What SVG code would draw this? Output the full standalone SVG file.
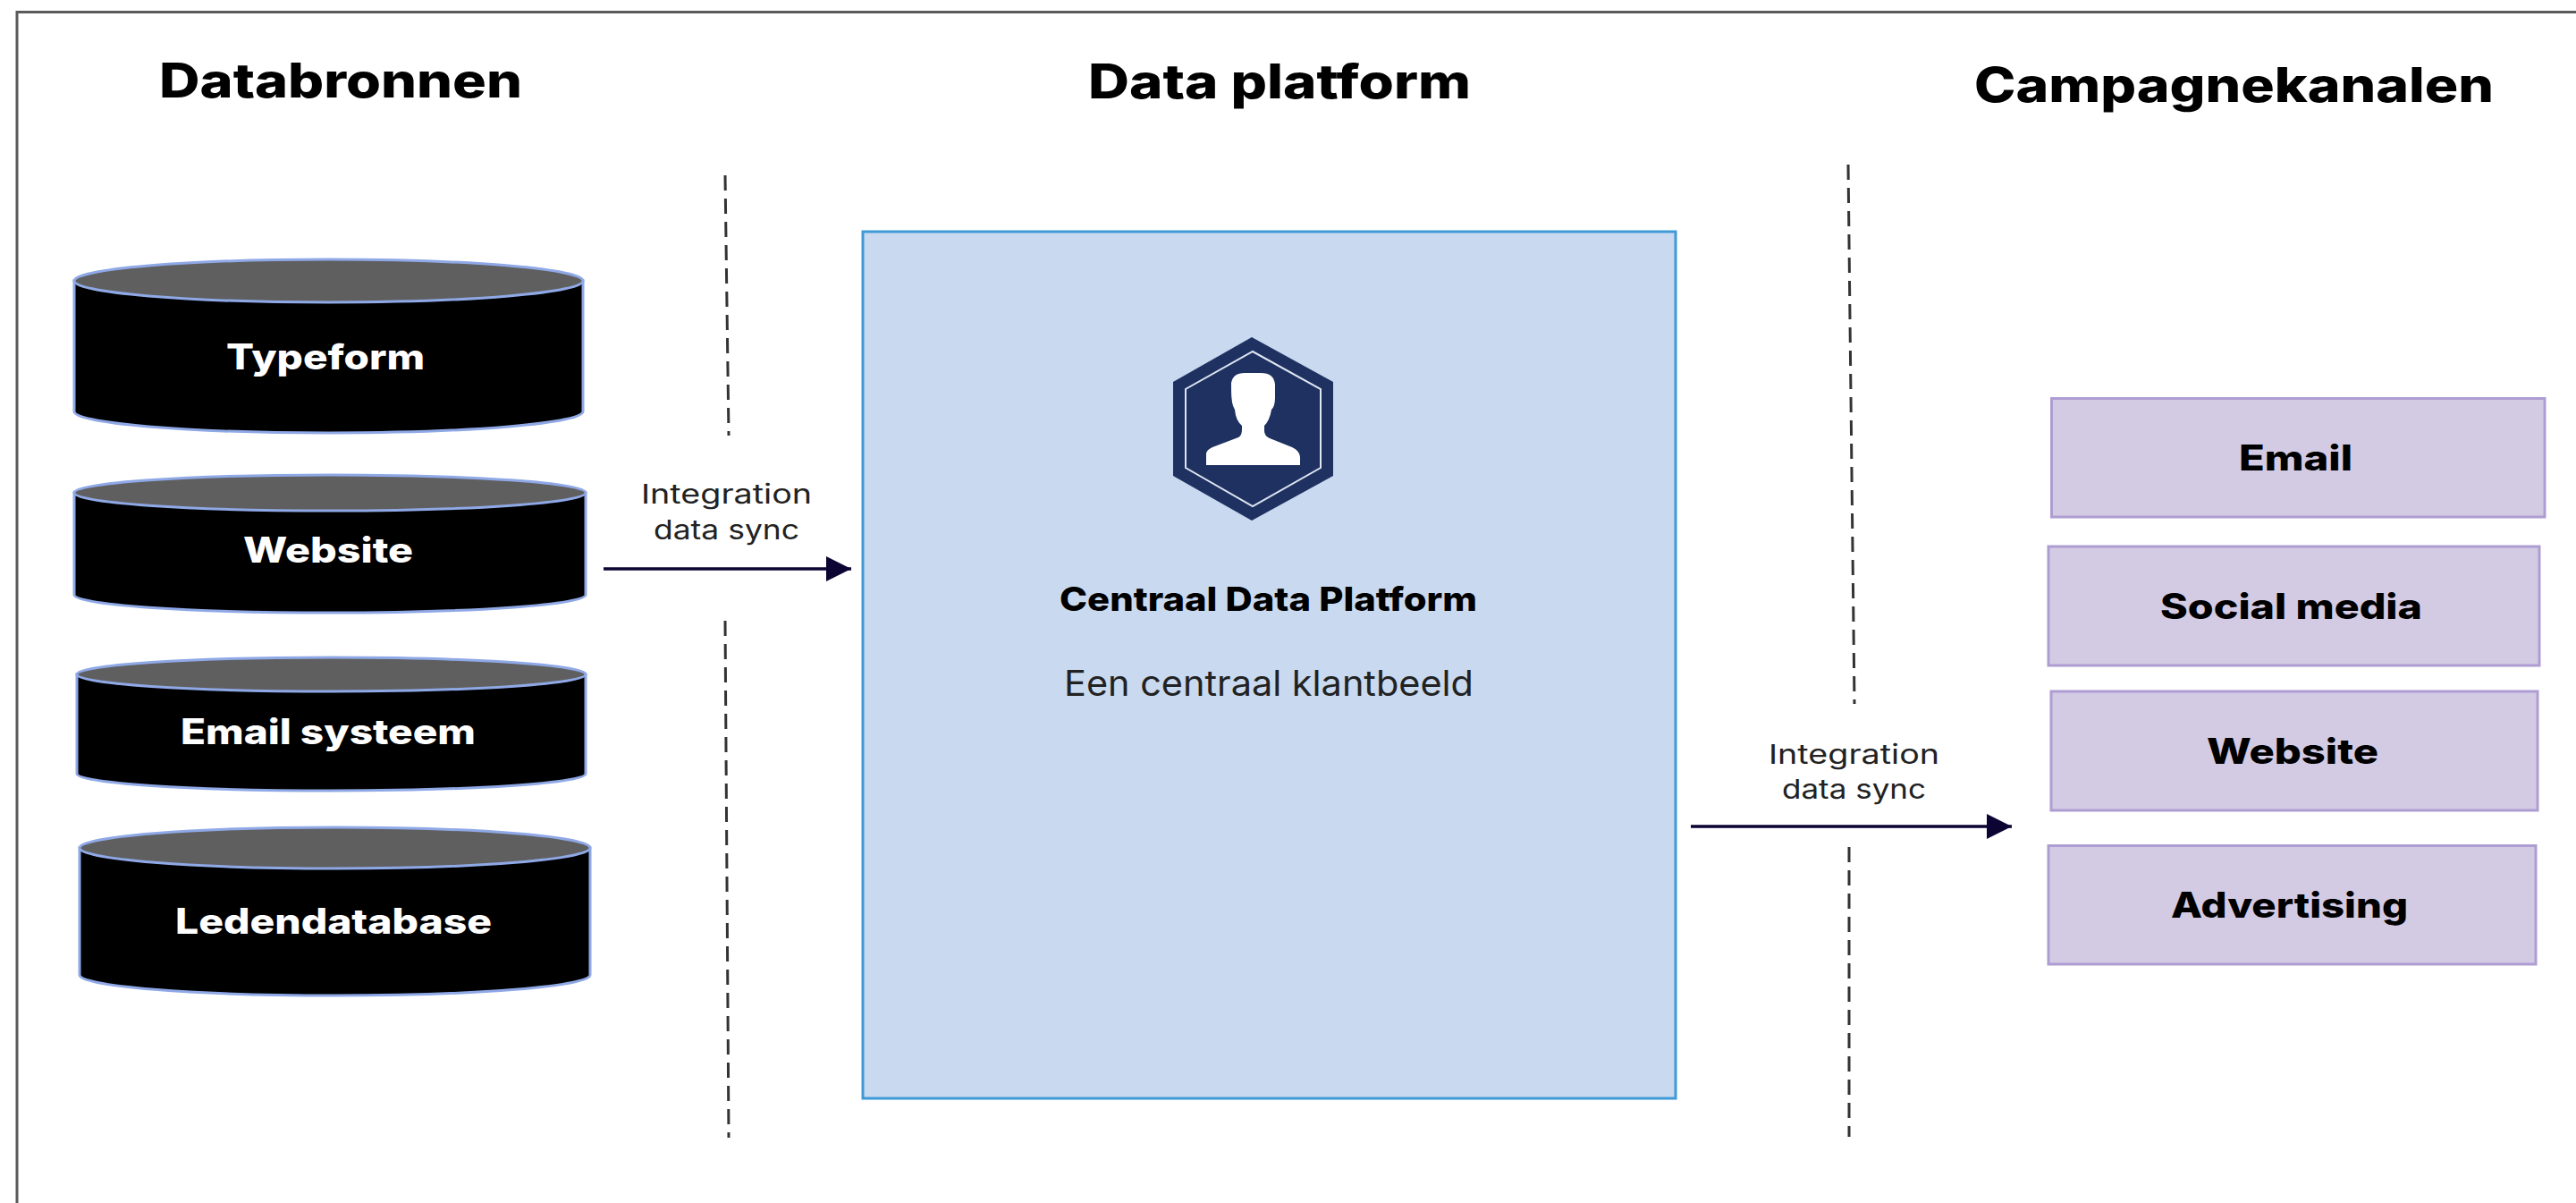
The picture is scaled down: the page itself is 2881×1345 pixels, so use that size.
<svg xmlns="http://www.w3.org/2000/svg" width="2881" height="1345" viewBox="0 0 2881 1345">
<style>
text{font-family:"Inter","Liberation Sans",sans-serif;text-anchor:start}
.title{font-size:53px;font-weight:800;fill:#000}
.cyl{font-size:39px;font-weight:800;fill:#fff}
.ch{font-size:39px;font-weight:800;fill:#000}
.lbl{font-size:30px;font-weight:400;fill:#222}
.body{fill:#000;stroke:#8fa8e6;stroke-width:3}
.top{fill:#5f5f5f;stroke:#8fa8e6;stroke-width:3}
.ch-box{fill:#d3cbe4;stroke:#ae9dd2;stroke-width:3}
.dash{fill:none;stroke:#333;stroke-width:3;stroke-dasharray:17 9}
.flow{fill:none;stroke:#0c0533;stroke-width:3.5;marker-end:url(#arrow)}
</style>
<defs>
<marker id="arrow" markerUnits="userSpaceOnUse" markerWidth="28" markerHeight="28" refX="28" refY="14" orient="auto">
<path d="M0 0L28 14L0 28Z" fill="#0c0533"/>
</marker>
</defs>
<rect width="2881" height="1345" fill="#fff"/>
<path id="frame" d="M19 1345V13.500H2881" fill="none" stroke="#5a5a5a" stroke-width="3"/>
<text class="title" x="178" y="109" textLength="406" lengthAdjust="spacingAndGlyphs">Databronnen</text>
<text class="title" x="1217" y="110" textLength="428" lengthAdjust="spacingAndGlyphs">Data platform</text>
<text class="title" x="2208" y="114" textLength="581" lengthAdjust="spacingAndGlyphs">Campagnekanalen</text>
<g id="connectors">
<path class="dash" d="M811 196L815 487"/>
<path class="dash" d="M811 694L815 1272"/>
<path class="dash" d="M2067 184L2074 787"/>
<path class="dash" d="M2068 947V1271"/>
<path class="flow" d="M675 636H952"/>
<path class="flow" d="M1891 924H2250"/>
</g>
<g id="label-in">
<text class="lbl" x="717" y="563" textLength="191" lengthAdjust="spacingAndGlyphs">Integration</text>
<text class="lbl" x="731" y="603" textLength="163" lengthAdjust="spacingAndGlyphs">data sync</text>
</g>
<g id="label-out">
<text class="lbl" x="1978" y="854" textLength="191" lengthAdjust="spacingAndGlyphs">Integration</text>
<text class="lbl" x="1993" y="893" textLength="161" lengthAdjust="spacingAndGlyphs">data sync</text>
</g>
<g id="typeform">
<path class="body" d="M83 314V460A284.500 24 0 0 0 652 460V314Z"/>
<ellipse class="top" cx="367.500" cy="314" rx="284.500" ry="24"/>
<text class="cyl" x="253" y="413" textLength="222" lengthAdjust="spacingAndGlyphs">Typeform</text>
</g>
<g id="website-source">
<path class="body" d="M83 551V665A286 20 0 0 0 655 665V551Z"/>
<ellipse class="top" cx="369" cy="551" rx="286" ry="20"/>
<text class="cyl" x="272" y="629" textLength="190" lengthAdjust="spacingAndGlyphs">Website</text>
</g>
<g id="email-systeem">
<path class="body" d="M86 754V865A284.500 19 0 0 0 655 865V754Z"/>
<ellipse class="top" cx="370.500" cy="754" rx="284.500" ry="19"/>
<text class="cyl" x="202" y="832" textLength="330" lengthAdjust="spacingAndGlyphs">Email systeem</text>
</g>
<g id="ledendatabase">
<path class="body" d="M89 948V1090A285.500 23 0 0 0 660 1090V948Z"/>
<ellipse class="top" cx="374.500" cy="948" rx="285.500" ry="23"/>
<text class="cyl" x="196" y="1044" textLength="354" lengthAdjust="spacingAndGlyphs">Ledendatabase</text>
</g>
<g id="platform">
<rect x="965" y="259" width="909" height="969" fill="#c9daf0" stroke="#3f9ad6" stroke-width="3"/>
<path d="M1400 377L1491 427V532L1400 582L1312 532V427Z" fill="#1e3161"/>
<path d="M1401 393L1477 435V523L1401 566L1326 523V435Z" fill="none" stroke="#dfe6f2" stroke-width="2"/>
<path d="M1349 520V508Q1349 503 1356 500L1385 489Q1389 487 1389 480V476Q1382 470 1381 458Q1377 452 1377 436V428Q1379 417 1392 417H1410Q1425 417 1426 430V445Q1426 454 1422 458Q1420 470 1414 476V482Q1414 487 1420 490L1445 500Q1454 504 1454 512V520Z" fill="#fff"/>
<text x="1185" y="683" font-size="37" font-weight="800" fill="#000" textLength="467" lengthAdjust="spacingAndGlyphs">Centraal Data Platform</text>
<text x="1190" y="778" font-size="39" font-weight="400" fill="#222" textLength="458" lengthAdjust="spacingAndGlyphs">Een centraal klantbeeld</text>
</g>
<g id="email">
<rect class="ch-box" x="2294.500" y="445.500" width="551.500" height="132.500"/>
<text class="ch" x="2504" y="526" textLength="127" lengthAdjust="spacingAndGlyphs">Email</text>
</g>
<g id="social-media">
<rect class="ch-box" x="2291" y="611" width="549" height="133"/>
<text class="ch" x="2416" y="692" textLength="293" lengthAdjust="spacingAndGlyphs">Social media</text>
</g>
<g id="website-channel">
<rect class="ch-box" x="2294" y="773" width="544" height="133"/>
<text class="ch" x="2468" y="854" textLength="192" lengthAdjust="spacingAndGlyphs">Website</text>
</g>
<g id="advertising">
<rect class="ch-box" x="2291" y="945.500" width="545" height="132.500"/>
<text class="ch" x="2428" y="1026" textLength="265" lengthAdjust="spacingAndGlyphs">Advertising</text>
</g>
</svg>
